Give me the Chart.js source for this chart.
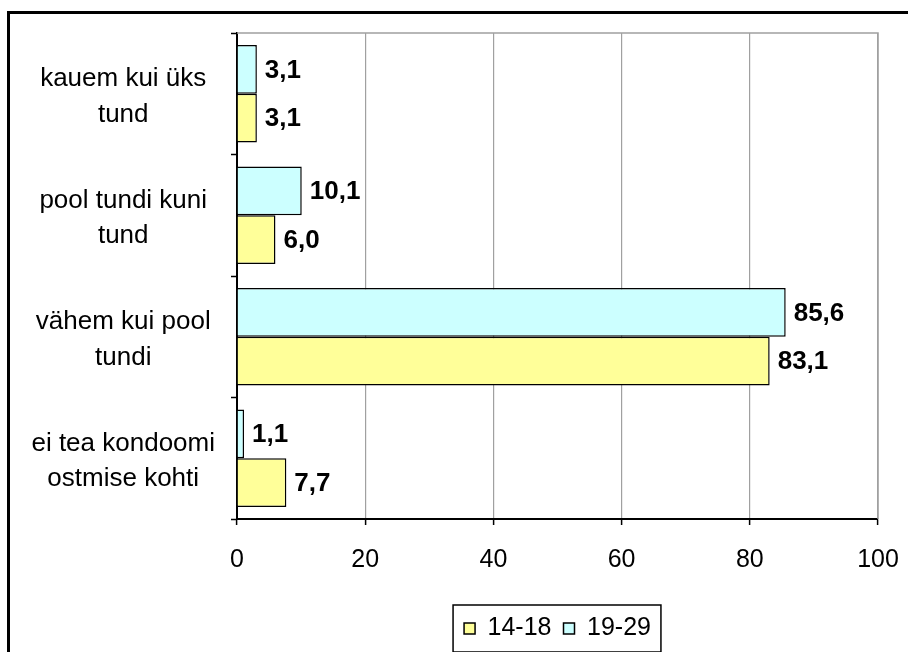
<!DOCTYPE html>
<html>
<head>
<meta charset="utf-8">
<script src="https://cdn.jsdelivr.net/npm/chart.js@4/dist/chart.umd.min.js"></script>
<style>
  body { margin: 0; background: #fff; }
  #wrap { position: relative; width: 908px; height: 652px; }
  #frame { position: absolute; left: 7px; top: 11px; right: -10px; bottom: -10px;
           border-left: 3px solid #000; border-top: 3px solid #000; pointer-events: none; }
</style>
</head>
<body>
<div id="wrap">
  <canvas id="chart" width="908" height="652"></canvas>
  <div id="frame"></div>
</div>
<script>
// Andmed
const categories = [
    ['kauem kui üks', 'tund'],
    ['pool tundi kuni', 'tund'],
    ['vähem kui pool', 'tundi'],
    ['ei tea kondoomi', 'ostmise kohti']
];
const seriesNames = ['14-18', '19-29'];
const values1418 = [3.1, 6.0, 83.1, 7.7];
const values1929 = [3.1, 10.1, 85.6, 1.1];

const FONT = "'Liberation Sans', Arial, sans-serif";

// väärtuste sildid tulba otsa
const valueLabels = {
    id: 'valueLabels',
    afterDatasetsDraw(chart) {
        const ctx = chart.ctx;
        ctx.save();
        ctx.font = 'bold 26px ' + FONT;
        ctx.fillStyle = '#000';
        ctx.textAlign = 'left';
        ctx.textBaseline = 'middle';
        chart.data.datasets.forEach((ds, i) => {
            chart.getDatasetMeta(i).data.forEach((bar, j) => {
                const txt = ds.data[j].toFixed(1).replace('.', ',');
                ctx.fillText(txt, bar.x + 8, bar.y + 1);
            });
        });
        ctx.restore();
    }
};

// hall raam joonise ala ümber + legendi kast
const frames = {
    id: 'frames',
    beforeDatasetsDraw(chart) {
        const a = chart.chartArea;
        const ctx = chart.ctx;
        ctx.save();
        ctx.strokeStyle = '#a0a0a0';
        ctx.lineWidth = 1.5;
        ctx.beginPath();
        ctx.moveTo(a.left, a.top);
        ctx.lineTo(a.right, a.top);
        ctx.lineTo(a.right, a.bottom);
        ctx.stroke();
        ctx.restore();
    },
    afterDraw(chart) {
        const hb = chart.legend.legendHitBoxes;
        if (!hb || !hb.length) return;
        const first = hb[0], last = hb[hb.length - 1];
        const left = first.left - 11;
        const right = last.left + last.width + 10;
        const cy = first.top + first.height / 2;
        const ctx = chart.ctx;
        ctx.save();
        ctx.strokeStyle = '#000';
        ctx.lineWidth = 1.5;
        ctx.strokeRect(left, cy - 23.5, right - left, 47);
        ctx.restore();
    }
};

const ctx = document.getElementById('chart').getContext('2d');
const chart = new Chart(ctx, {
    type: 'bar',
    data: {
        labels: categories,
        datasets: [
            {
                label: seriesNames[1],
                data: values1929,
                backgroundColor: '#ccffff',
                borderColor: '#000',
                borderWidth: 1.5,
                categoryPercentage: 0.804,
                barPercentage: 1.0
            },
            {
                label: seriesNames[0],
                data: values1418,
                backgroundColor: '#ffff99',
                borderColor: '#000',
                borderWidth: 1.5,
                categoryPercentage: 0.804,
                barPercentage: 1.0
            }
        ]
    },
    options: {
        indexAxis: 'y',
        responsive: false,
        animation: false,
        layout: { padding: { top: 33, right: 30, bottom: 1, left: 0 } },
        scales: {
            x: {
                min: 0,
                max: 100,
                ticks: {
                    stepSize: 20,
                    color: '#000',
                    font: { family: FONT, size: 25 },
                    padding: 20
                },
                grid: {
                    color: '#a0a0a0',
                    lineWidth: 1.2,
                    tickColor: '#000',
                    tickLength: 6,
                    tickWidth: 1.5
                },
                border: { color: '#000', width: 2 },
                afterFit(scale) {
                    scale.height = 85;
                    scale.paddingLeft = 0;
                    scale.paddingRight = 0;
                }
            },
            y: {
                ticks: {
                    color: '#000',
                    font: { family: FONT, size: 26, lineHeight: 1.36 },
                    crossAlign: 'center',
                    padding: 16,
                    labelOffset: 3
                },
                grid: {
                    drawOnChartArea: false,
                    tickColor: '#000',
                    tickLength: 6,
                    tickWidth: 1.5
                },
                border: { color: '#000', width: 2 },
                afterFit(scale) {
                    scale.width = 237;
                    scale.paddingTop = 0;
                    scale.paddingBottom = 0;
                }
            }
        },
        plugins: {
            legend: {
                position: 'bottom',
                fullSize: false,
                reverse: true,
                labels: {
                    color: '#000',
                    font: { family: FONT, size: 25 },
                    boxWidth: 11,
                    boxHeight: 11,
                    padding: 12
                }
            },
            tooltip: { enabled: false }
        }
    },
    plugins: [valueLabels, frames]
});
</script>
</body>
</html>
